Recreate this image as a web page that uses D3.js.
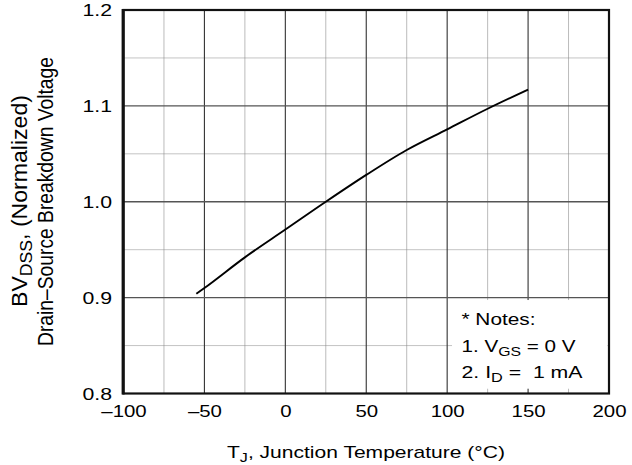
<!DOCTYPE html>
<html><head><meta charset="utf-8">
<script src="https://cdn.jsdelivr.net/npm/d3@7"></script>
<style>body{margin:0;background:#fff}svg{display:block}text{font-family:"Liberation Sans",Arial,Helvetica,sans-serif;fill:#000}</style>
</head><body>
<script>
const temps = [-55, -50, -25, 0, 25, 50, 75, 100, 125, 150];
const bvdss = [0.904, 0.910, 0.942, 0.971, 1.000, 1.028, 1.054, 1.0755, 1.097, 1.117];
const xTicks = [-100, -50, 0, 50, 100, 150, 200];
const yTicks = [0.8, 0.9, 1.0, 1.1, 1.2];
const xMinor = [-75, -25, 25, 75, 125, 175];
const yMinor = [0.85, 0.95, 1.05, 1.15];

const W = 632, H = 465;
const m = {left: 123.5, right: 23, top: 10, bottom: 71.5};
const svg = d3.select("body").append("svg").attr("width", W).attr("height", H);
const x = d3.scaleLinear().domain([-100, 200]).range([m.left, W - m.right]);
const y = d3.scaleLinear().domain([0.8, 1.2]).range([H - m.bottom, m.top]);
const FS = 17;
const SUB = 13;

function stretch(sel, f) {
  sel.each(function () {
    const L = this.getComputedTextLength();
    d3.select(this).attr("textLength", L * f).attr("lengthAdjust", "spacingAndGlyphs");
  });
}

const g = svg.append("g");
// minor dotted grid
g.selectAll(".vmin").data(xMinor).join("line")
  .attr("x1", d => x(d)).attr("x2", d => x(d)).attr("y1", y(0.8)).attr("y2", y(1.2))
  .attr("stroke", "#777").attr("stroke-width", 1).attr("stroke-dasharray", "1,1");
g.selectAll(".hmin").data(yMinor).join("line")
  .attr("y1", d => y(d)).attr("y2", d => y(d)).attr("x1", x(-100)).attr("x2", x(200))
  .attr("stroke", "#888").attr("stroke-width", 1).attr("stroke-dasharray", "1,1");
// major grid
g.selectAll(".vmaj").data(xTicks.slice(1, -1)).join("line")
  .attr("x1", d => x(d)).attr("x2", d => x(d)).attr("y1", y(0.8)).attr("y2", y(1.2))
  .attr("stroke", "#333").attr("stroke-width", 1.1);
g.selectAll(".hmaj").data(yTicks.slice(1, -1)).join("line")
  .attr("y1", d => y(d)).attr("y2", d => y(d)).attr("x1", x(-100)).attr("x2", x(200))
  .attr("stroke", "#555").attr("stroke-width", 1.4);

// notes box
svg.append("rect").attr("x", x(103)).attr("y", y(0.8975)).attr("width", x(199) - x(103))
  .attr("height", y(0.805) - y(0.8975)).attr("fill", "#fff");
const notes = svg.append("g").attr("font-size", FS);
notes.append("text").attr("x", 461.5).attr("y", 325)
  .attr("textLength", 74).attr("lengthAdjust", "spacingAndGlyphs").text("* Notes:");
const n1 = notes.append("text").attr("x", 461.5).attr("y", 352)
  .attr("textLength", 114).attr("lengthAdjust", "spacingAndGlyphs");
n1.append("tspan").text("1. V");
n1.append("tspan").attr("font-size", SUB).attr("dy", 4).text("GS");
n1.append("tspan").attr("dy", -4).text(" = 0 V");
const n2 = notes.append("text").attr("x", 461.5).attr("y", 378)
  .attr("textLength", 121).attr("lengthAdjust", "spacingAndGlyphs");
n2.append("tspan").text("2. I");
n2.append("tspan").attr("font-size", SUB).attr("dy", 4).text("D");
n2.append("tspan").attr("dy", -4).text(" =\u00A0 1 mA");

// curve
const pts = temps.map((t, i) => [t, bvdss[i]]);
svg.append("path").datum(pts)
  .attr("d", d3.line().x(d => x(d[0])).y(d => y(d[1])).curve(d3.curveMonotoneX))
  .attr("fill", "none").attr("stroke", "#000").attr("stroke-width", 1.9);

// frame
svg.append("rect").attr("x", x(-100)).attr("y", y(1.2)).attr("width", x(200) - x(-100))
  .attr("height", y(0.8) - y(1.2)).attr("fill", "none").attr("stroke", "#111").attr("stroke-width", 2.2);
svg.append("line").attr("x1", x(-100) - 0.4).attr("x2", x(-100) - 0.4).attr("y1", y(1.2) - 1).attr("y2", y(0.8) + 1)
  .attr("stroke", "#111").attr("stroke-width", 3);

// axes labels
const fmtX = d => d < 0 ? "\u2013" + Math.abs(d) : String(d);
const xa = svg.append("g").attr("transform", `translate(0,${y(0.8)})`)
  .call(d3.axisBottom(x).tickValues(xTicks).tickSize(0).tickPadding(0).tickFormat(fmtX));
xa.select(".domain").remove();
xa.selectAll("text").attr("font-size", FS).attr("font-family", null).attr("dy", null).attr("y", 23.5);
stretch(xa.selectAll("text"), 1.2);

const ya = svg.append("g").attr("transform", `translate(${x(-100)},0)`)
  .call(d3.axisLeft(y).tickValues(yTicks).tickSize(0).tickPadding(0).tickFormat(d3.format(".1f")));
ya.select(".domain").remove();
ya.selectAll("text").attr("font-size", FS).attr("font-family", null).attr("x", -11.5).attr("dy", "0.35em");
stretch(ya.selectAll("text"), 1.25);

// x title
const xt = svg.append("text").attr("x", 227).attr("y", 458).attr("font-size", FS)
  .attr("textLength", 278).attr("lengthAdjust", "spacingAndGlyphs");
xt.append("tspan").text("T");
xt.append("tspan").attr("font-size", SUB).attr("dy", 4).text("J");
xt.append("tspan").attr("dy", -4).text(", Junction Temperature (\u00B0C)");

// y title (rotated; glyphs widened to match the stretched reference)
const yt1 = svg.append("text").attr("transform", "translate(26.5,307) scale(1.25,1) rotate(-90)")
  .attr("font-size", FS).attr("textLength", 212).attr("lengthAdjust", "spacingAndGlyphs");
yt1.append("tspan").text("BV");
yt1.append("tspan").attr("font-size", SUB).attr("dy", 4).text("DSS");
yt1.append("tspan").attr("dy", -4).text(", (Normalized)");
svg.append("text").attr("transform", "translate(52.5,346) scale(1.25,1) rotate(-90)")
  .attr("font-size", FS).attr("textLength", 289).attr("lengthAdjust", "spacingAndGlyphs")
  .text("Drain\u2013Source Breakdown Voltage");
</script>
</body></html>
